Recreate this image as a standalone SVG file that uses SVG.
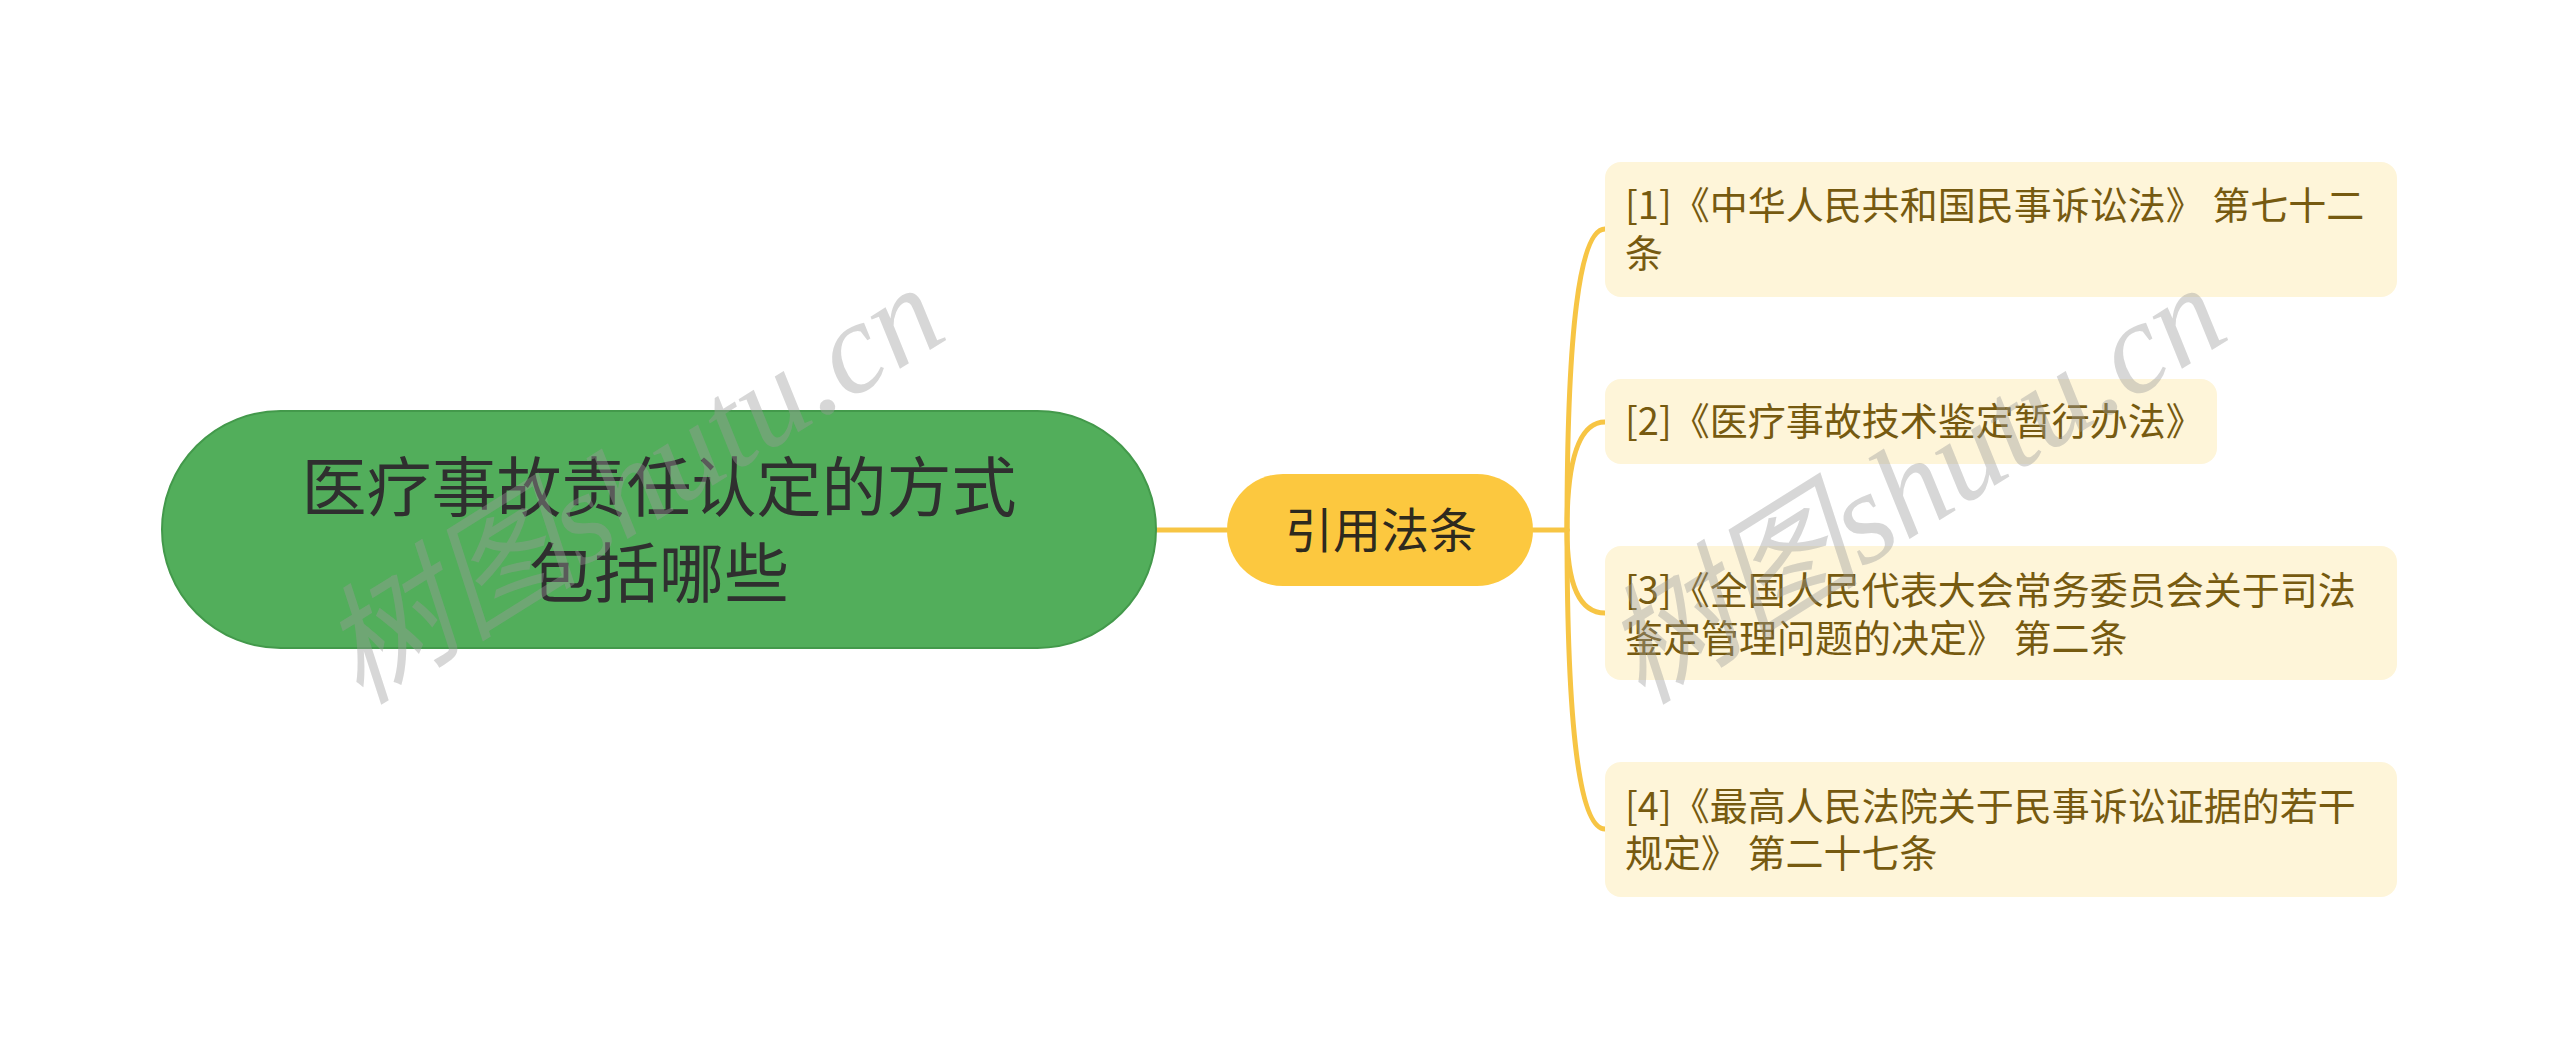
<svg xmlns="http://www.w3.org/2000/svg" width="2560" height="1059" viewBox="0 0 2560 1059">
<style>
.cn{font-family:"Noto Sans CJK SC","Noto Sans",sans-serif;}
.root-t{font-size:65px;fill:#2f2f2f;text-anchor:middle;}
.mid-t{font-size:48px;fill:#2e2a1e;text-anchor:middle;}
.leaf-t{font-size:38px;fill:#765a10;}
.leaf{fill:#fef5d9;}
.conn{fill:none;stroke:#f7c544;stroke-width:5;stroke-linecap:round;}
.wm{font-family:"Liberation Serif","Noto Sans CJK SC",serif;font-style:italic;font-size:130px;fill:#9a9a9a;fill-opacity:0.4;}
</style>
<rect width="2560" height="1059" fill="#ffffff"/>
<g id="connectors">
<path class="conn" d="M1156 530 L1227 530"/>
<path class="conn" d="M1533 530 L1567 530"/>
<path class="conn" d="M1567 530 Q1567 229 1605 229"/>
<path class="conn" d="M1567 530 Q1567 422 1605 422"/>
<path class="conn" d="M1567 530 Q1567 613 1605 613"/>
<path class="conn" d="M1567 530 Q1567 829 1605 829"/>
</g>
<g id="root">
<rect x="162" y="411" width="994" height="237" rx="118.5" fill="#52ae5b" stroke="#43994b" stroke-width="2"/>
<text class="cn root-t" x="659" y="511">医疗事故责任认定的方式</text>
<text class="cn root-t" x="659" y="597">包括哪些</text>
</g>
<g id="mid">
<rect x="1227" y="474" width="306" height="112" rx="56" fill="#fcc83f"/>
<text class="cn mid-t" x="1381" y="548">引用法条</text>
</g>
<g id="leaf1">
<rect class="leaf" x="1605" y="162" width="792" height="135" rx="16"/>
<text class="cn leaf-t" x="1625" y="219">[1]《中华人民共和国民事诉讼法》 第七十二</text>
<text class="cn leaf-t" x="1625" y="267">条</text>
</g>
<g id="leaf2">
<rect class="leaf" x="1605" y="379" width="612" height="85" rx="16"/>
<text class="cn leaf-t" x="1625" y="435">[2]《医疗事故技术鉴定暂行办法》</text>
</g>
<g id="leaf3">
<rect class="leaf" x="1605" y="546" width="792" height="134" rx="16"/>
<text class="cn leaf-t" x="1625" y="604">[3]《全国人民代表大会常务委员会关于司法</text>
<text class="cn leaf-t" x="1625" y="652">鉴定管理问题的决定》 第二条</text>
</g>
<g id="leaf4">
<rect class="leaf" x="1605" y="762" width="792" height="135" rx="16"/>
<text class="cn leaf-t" x="1625" y="820">[4]《最高人民法院关于民事诉讼证据的若干</text>
<text class="cn leaf-t" x="1625" y="867">规定》 第二十七条</text>
</g>
<g id="watermarks">
<text class="wm" x="360" y="706" transform="rotate(-32 360 706)">树图shutu.cn</text>
<text class="wm" x="1642" y="706" transform="rotate(-32 1642 706)">树图shutu.cn</text>
</g>
</svg>
